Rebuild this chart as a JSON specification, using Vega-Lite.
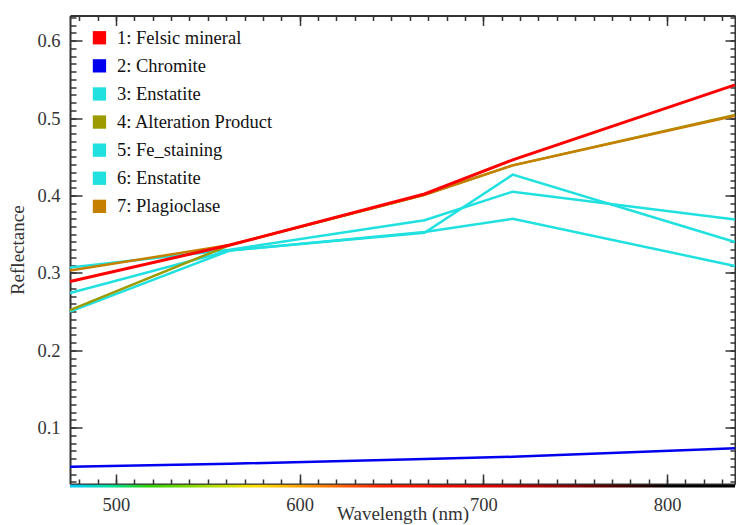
{
  "$schema": "https://vega.github.io/schema/vega-lite/v6.json",
  "width": 665,
  "height": 468.5,
  "autosize": {"type": "none"},
  "padding": {"left": 70, "top": 15.5, "right": 1, "bottom": 41},
  "background": "white",
  "config": {
    "view": {"stroke": null},
    "font": "Liberation Serif",
    "axis": {"grid": false, "tickColor": "#333", "tickWidth": 1.5, "domainColor": "#333", "domainWidth": 2},
    "legend": {
      "orient": "none",
      "legendX": 20.2,
      "legendY": 13,
      "padding": 0,
      "symbolType": "square",
      "symbolSize": 177,
      "symbolStrokeWidth": 0,
      "labelFont": "Liberation Serif",
      "labelFontSize": 18.5,
      "labelColor": "#111",
      "labelOffset": 8.3,
      "labelLimit": 400,
      "rowPadding": 9.1
    }
  },
  "data": {
    "values": [
      {"spectrum": "3: Enstatite", "wl": 475, "r": 0.307},
      {"spectrum": "3: Enstatite", "wl": 562, "r": 0.330},
      {"spectrum": "3: Enstatite", "wl": 668, "r": 0.368},
      {"spectrum": "3: Enstatite", "wl": 716, "r": 0.405},
      {"spectrum": "3: Enstatite", "wl": 837, "r": 0.369},
      {"spectrum": "5: Fe_staining", "wl": 475, "r": 0.250},
      {"spectrum": "5: Fe_staining", "wl": 562, "r": 0.329},
      {"spectrum": "5: Fe_staining", "wl": 668, "r": 0.352},
      {"spectrum": "5: Fe_staining", "wl": 716, "r": 0.427},
      {"spectrum": "5: Fe_staining", "wl": 837, "r": 0.340},
      {"spectrum": "6: Enstatite", "wl": 475, "r": 0.274},
      {"spectrum": "6: Enstatite", "wl": 562, "r": 0.329},
      {"spectrum": "6: Enstatite", "wl": 668, "r": 0.353},
      {"spectrum": "6: Enstatite", "wl": 716, "r": 0.370},
      {"spectrum": "6: Enstatite", "wl": 837, "r": 0.309},
      {"spectrum": "2: Chromite", "wl": 475, "r": 0.0496},
      {"spectrum": "2: Chromite", "wl": 562, "r": 0.0535},
      {"spectrum": "2: Chromite", "wl": 668, "r": 0.0595},
      {"spectrum": "2: Chromite", "wl": 716, "r": 0.0625},
      {"spectrum": "2: Chromite", "wl": 837, "r": 0.0735},
      {"spectrum": "4: Alteration Product", "wl": 475, "r": 0.252},
      {"spectrum": "4: Alteration Product", "wl": 562, "r": 0.336},
      {"spectrum": "4: Alteration Product", "wl": 668, "r": 0.401},
      {"spectrum": "4: Alteration Product", "wl": 716, "r": 0.439},
      {"spectrum": "4: Alteration Product", "wl": 837, "r": 0.504},
      {"spectrum": "7: Plagioclase", "wl": 475, "r": 0.303},
      {"spectrum": "7: Plagioclase", "wl": 562, "r": 0.336},
      {"spectrum": "7: Plagioclase", "wl": 668, "r": 0.401},
      {"spectrum": "7: Plagioclase", "wl": 716, "r": 0.439},
      {"spectrum": "7: Plagioclase", "wl": 837, "r": 0.503},
      {"spectrum": "1: Felsic mineral", "wl": 475, "r": 0.289},
      {"spectrum": "1: Felsic mineral", "wl": 562, "r": 0.336},
      {"spectrum": "1: Felsic mineral", "wl": 668, "r": 0.402},
      {"spectrum": "1: Felsic mineral", "wl": 716, "r": 0.446},
      {"spectrum": "1: Felsic mineral", "wl": 837, "r": 0.543}
    ]
  },
  "layer": [
    {
      "data": {"values": [{"from": 475, "to": 837}]},
      "mark": {
        "type": "rect",
        "color": {
          "gradient": "linear", "x1": 0, "x2": 1, "y1": 0, "y2": 0,
          "stops": [
            {"offset": 0, "color": "#00c8ff"},
            {"offset": 0.06, "color": "#00e0a0"},
            {"offset": 0.12, "color": "#30d000"},
            {"offset": 0.22, "color": "#b8e000"},
            {"offset": 0.28, "color": "#ffe000"},
            {"offset": 0.38, "color": "#ff8000"},
            {"offset": 0.47, "color": "#ff2000"},
            {"offset": 0.65, "color": "#d00000"},
            {"offset": 0.8, "color": "#600000"},
            {"offset": 0.9, "color": "#000000"},
            {"offset": 1, "color": "#000000"}
          ]
        }
      },
      "encoding": {
        "x": {"field": "from", "type": "quantitative", "scale": {"domain": [475, 837], "nice": false, "zero": false}, "axis": null},
        "x2": {"field": "to"},
        "y": {"datum": 0.0262, "type": "quantitative", "scale": {"domain": [0.0273, 0.6326], "nice": false, "zero": false}, "axis": null},
        "y2": {"datum": 0.0228}
      }
    },
    {
      "transform": [{"filter": "datum.spectrum === '3: Enstatite' || datum.spectrum === '5: Fe_staining'"}],
      "mark": {"type": "line", "strokeWidth": 2.5},
      "encoding": {
        "x": {
          "field": "wl", "type": "quantitative",
          "scale": {"domain": [475, 837], "nice": false, "zero": false},
          "axis": {"orient": "bottom", "values": [500, 600, 700, 800], "ticks": false, "labelPadding": 11, "labelFontSize": 18.5, "labelColor": "#333", "labelFont": "Liberation Serif", "labelFlush": false, "title": "Wavelength (nm)", "titleFont": "Liberation Serif", "titleFontSize": 19, "titleFontWeight": "normal", "titleColor": "#333", "titlePadding": -9, "domain": true}
        },
        "y": {
          "field": "r", "type": "quantitative",
          "scale": {"domain": [0.0273, 0.6326], "nice": false, "zero": false},
          "axis": {"orient": "left", "values": [0.1, 0.2, 0.3, 0.4, 0.5, 0.6], "format": ".1f", "ticks": false, "labelPadding": 10, "labelFontSize": 18.5, "labelColor": "#333", "labelFont": "Liberation Serif", "title": "Reflectance", "titleFont": "Liberation Serif", "titleFontSize": 19, "titleFontWeight": "normal", "titleColor": "#333", "titlePadding": 9, "domain": true}
        },
        "color": {
          "field": "spectrum", "type": "nominal",
          "scale": {
            "domain": ["1: Felsic mineral", "2: Chromite", "3: Enstatite", "4: Alteration Product", "5: Fe_staining", "6: Enstatite", "7: Plagioclase"],
            "range": ["#ff0000", "#0000ee", "#20e0e0", "#9b9b00", "#20e0e0", "#20e0e0", "#c68000"]
          },
          "legend": {
            "title": null,
            "labelFont": "Liberation Serif",
            "labelFontSize": 18.5,
            "encode": {"symbols": {"update": {"fill": {"scale": "color", "field": "value"}, "strokeWidth": {"value": 0}, "opacity": {"value": 1}}}}
          }
        }
      }
    },
    {
      "transform": [{"filter": "datum.spectrum === '6: Enstatite'"}],
      "mark": {"type": "line", "strokeWidth": 2.5},
      "encoding": {
        "x": {"field": "wl", "type": "quantitative", "scale": {"domain": [475, 837], "nice": false, "zero": false},
          "axis": {"orient": "bottom", "values": [500, 600, 700, 800], "tickSize": -10, "labels": false, "domain": false, "title": null}},
        "y": {"field": "r", "type": "quantitative", "scale": {"domain": [0.0273, 0.6326], "nice": false, "zero": false},
          "axis": {"orient": "left", "values": [0.1, 0.2, 0.3, 0.4, 0.5, 0.6], "tickSize": -12, "labels": false, "domain": false, "title": null}},
        "color": {"field": "spectrum", "type": "nominal"}
      }
    },
    {
      "transform": [{"filter": "datum.spectrum === '2: Chromite'"}],
      "mark": {"type": "line", "strokeWidth": 2.5},
      "encoding": {
        "x": {"field": "wl", "type": "quantitative", "scale": {"domain": [475, 837], "nice": false, "zero": false},
          "axis": {"orient": "bottom", "tickCount": 36, "tickSize": -5, "labels": false, "domain": false, "title": null}},
        "y": {"field": "r", "type": "quantitative", "scale": {"domain": [0.0273, 0.6326], "nice": false, "zero": false},
          "axis": {"orient": "left", "tickCount": 60, "tickSize": -6, "labels": false, "domain": false, "title": null}},
        "color": {"field": "spectrum", "type": "nominal"}
      }
    },
    {
      "transform": [{"filter": "datum.spectrum === '4: Alteration Product' || datum.spectrum === '7: Plagioclase'"}],
      "mark": {"type": "line", "strokeWidth": 2.5},
      "encoding": {
        "x": {"field": "wl", "type": "quantitative", "scale": {"domain": [475, 837], "nice": false, "zero": false},
          "axis": {"orient": "top", "values": [500, 600, 700, 800], "tickSize": -10, "labels": false, "domain": true, "title": null}},
        "y": {"field": "r", "type": "quantitative", "scale": {"domain": [0.0273, 0.6326], "nice": false, "zero": false},
          "axis": {"orient": "right", "values": [0.1, 0.2, 0.3, 0.4, 0.5, 0.6], "tickSize": -10, "labels": false, "domain": true, "title": null}},
        "color": {"field": "spectrum", "type": "nominal"},
        "order": {"field": "wl", "type": "quantitative"}
      }
    },
    {
      "transform": [{"filter": "datum.spectrum === '1: Felsic mineral'"}],
      "mark": {"type": "line", "strokeWidth": 3},
      "encoding": {
        "x": {"field": "wl", "type": "quantitative", "scale": {"domain": [475, 837], "nice": false, "zero": false},
          "axis": {"orient": "top", "tickCount": 36, "tickSize": -5, "labels": false, "domain": false, "title": null}},
        "y": {"field": "r", "type": "quantitative", "scale": {"domain": [0.0273, 0.6326], "nice": false, "zero": false},
          "axis": {"orient": "right", "tickCount": 60, "tickSize": -5, "labels": false, "domain": false, "title": null}},
        "color": {"field": "spectrum", "type": "nominal"}
      }
    }
  ],
  "resolve": {"axis": {"x": "independent", "y": "independent"}}
}
